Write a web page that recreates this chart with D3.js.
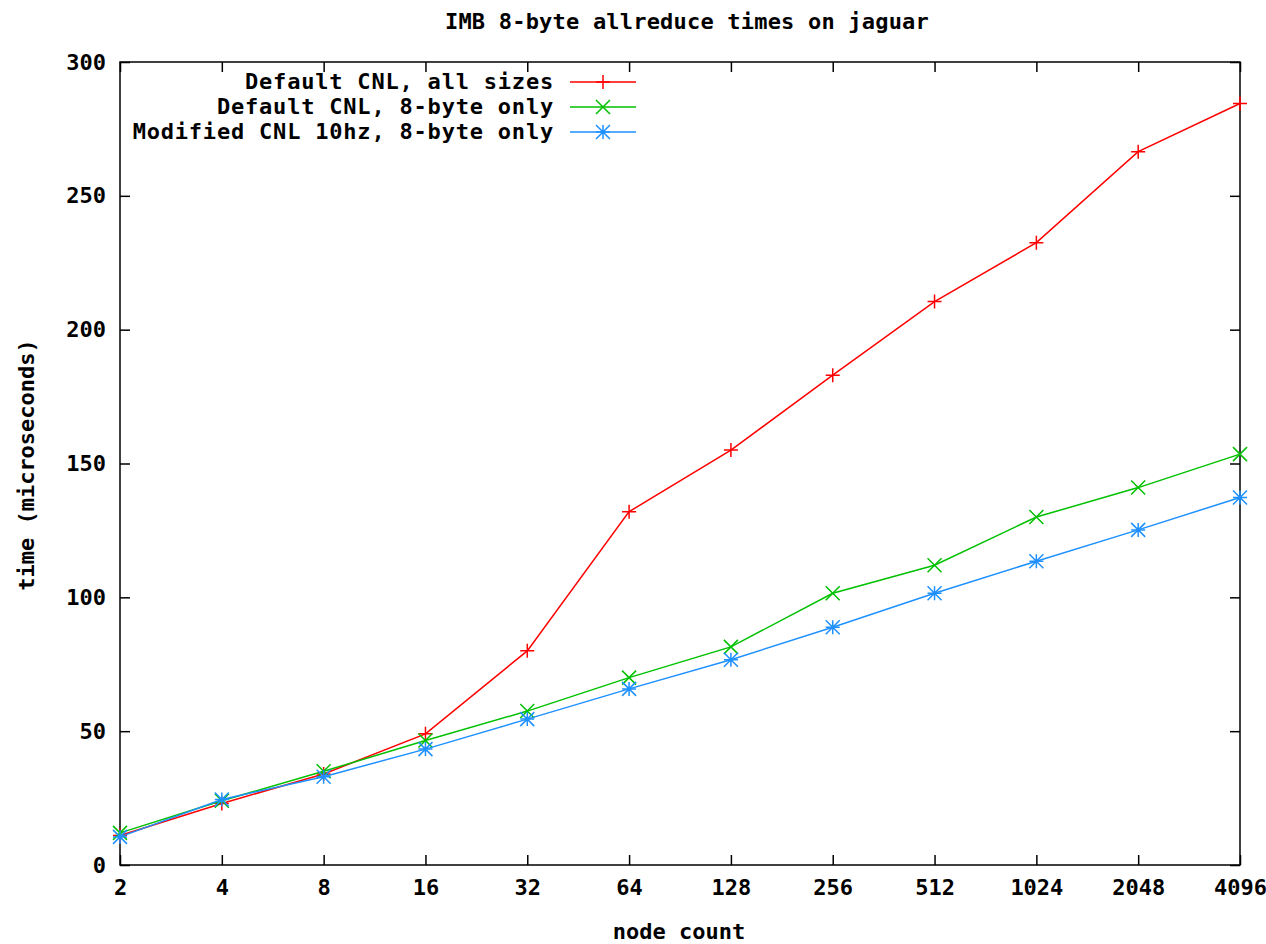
<!DOCTYPE html>
<html lang="en">
<head>
<meta charset="utf-8">
<script src="https://cdn.jsdelivr.net/npm/d3@7"></script>
<style>
  body { margin: 0; background: #fff; }
  text { font-family: "DejaVu Sans Mono", "Liberation Mono", monospace; font-weight: bold; fill: #000; }
</style>
</head>
<body>
<script>
var nodeCounts = ["2", "4", "8", "16", "32", "64", "128", "256", "512", "1024", "2048", "4096"];
var yTicks = [0, 50, 100, 150, 200, 250, 300];

var allSizes   = [11, 23, 34, 49, 80, 132, 155, 183, 210.5, 232.5, 266.5, 284.5];
var eightOnly  = [12, 24, 35, 46.5, 57.5, 70, 81.5, 101.5, 112, 130, 141, 153.5];
var modified   = [10.5, 24.5, 33, 43.3, 54.5, 65.8, 76.7, 88.8, 101.5, 113.5, 125.2, 137.3];

var seriesNames = ["Default CNL, all sizes", "Default CNL, 8-byte only", "Modified CNL 10hz, 8-byte only"];
var seriesColors = ["#ff0000", "#00c000", "#1e90ff"];
var seriesShapes = ["plus", "cross", "star"];

var w = 1266, h = 944;
var pLeft = 120, pRight = 1240, pTop = 62, pBottom = 865;
var fs = "22px";

var svg = d3.select("body").append("svg")
  .attr("width", w).attr("height", h);

var x = d3.scalePoint().domain(nodeCounts).range([pLeft, pRight]);
var y = d3.scaleLinear().domain([0, 300]).range([pBottom, pTop]);

// axes (gnuplot style: inward ticks, mirrored)
svg.append("g")
  .attr("transform", "translate(0," + pBottom + ")")
  .call(d3.axisBottom(x).tickSize(-10).tickPadding(14))
  .call(function(g) { g.select(".domain").remove(); });

svg.append("g")
  .attr("transform", "translate(0," + pTop + ")")
  .call(d3.axisTop(x).tickSize(-10).tickFormat(""))
  .call(function(g) { g.select(".domain").remove(); });

svg.append("g")
  .attr("transform", "translate(" + pLeft + ",0)")
  .call(d3.axisLeft(y).tickValues(yTicks).tickSize(-10).tickPadding(14))
  .call(function(g) { g.select(".domain").remove(); });

svg.append("g")
  .attr("transform", "translate(" + pRight + ",0)")
  .call(d3.axisRight(y).tickValues(yTicks).tickSize(-10).tickFormat(""))
  .call(function(g) { g.select(".domain").remove(); });

svg.selectAll(".tick line").attr("stroke", "#000").attr("stroke-width", 1.5);
svg.selectAll(".tick text").style("font-size", fs);

svg.append("rect")
  .attr("x", pLeft).attr("y", pTop)
  .attr("width", pRight - pLeft).attr("height", pBottom - pTop)
  .attr("fill", "none").attr("stroke", "#000").attr("stroke-width", 1.5);

// title and axis labels
svg.append("text")
  .attr("x", 687).attr("y", 29)
  .attr("text-anchor", "middle")
  .style("font-size", fs)
  .style("letter-spacing", "0.2px")
  .text("IMB 8-byte allreduce times on jaguar");

svg.append("text")
  .attr("x", 679).attr("y", 939)
  .attr("text-anchor", "middle")
  .style("font-size", fs)
  .text("node count");

svg.append("text")
  .attr("transform", "translate(34,465) rotate(-90)")
  .attr("text-anchor", "middle")
  .style("font-size", fs)
  .text("time (microseconds)");

function marker(g, shape, color, cx, cy) {
  var s = 7;
  var p = "";
  if (shape == "plus" || shape == "star") {
    p += "M" + (cx - s) + "," + cy + "H" + (cx + s) + "M" + cx + "," + (cy - s) + "V" + (cy + s);
  }
  if (shape == "cross" || shape == "star") {
    p += "M" + (cx - s) + "," + (cy - s) + "L" + (cx + s) + "," + (cy + s)
       + "M" + (cx - s) + "," + (cy + s) + "L" + (cx + s) + "," + (cy - s);
  }
  g.append("path").attr("d", p).attr("stroke", color).attr("stroke-width", 1.5).attr("fill", "none");
}

var allSeries = [allSizes, eightOnly, modified];
var line = d3.line()
  .x(function(d, i) { return x(nodeCounts[i]); })
  .y(function(d) { return y(d); });

allSeries.forEach(function(data, k) {
  var g = svg.append("g");
  g.append("path")
    .attr("d", line(data))
    .attr("fill", "none")
    .attr("stroke", seriesColors[k])
    .attr("stroke-width", 1.5);
  data.forEach(function(d, i) {
    marker(g, seriesShapes[k], seriesColors[k], x(nodeCounts[i]), y(d));
  });
});

// legend
var legend = svg.append("g");
seriesNames.forEach(function(name, k) {
  var ly = 82 + k * 25;
  legend.append("text")
    .attr("x", 554).attr("y", ly + 7)
    .attr("text-anchor", "end")
    .style("font-size", fs)
    .style("letter-spacing", "0.8px")
    .text(name);
  legend.append("line")
    .attr("x1", 570).attr("x2", 636)
    .attr("y1", ly).attr("y2", ly)
    .attr("stroke", seriesColors[k]).attr("stroke-width", 1.5);
  marker(legend, seriesShapes[k], seriesColors[k], 603, ly);
});
</script>
</body>
</html>
